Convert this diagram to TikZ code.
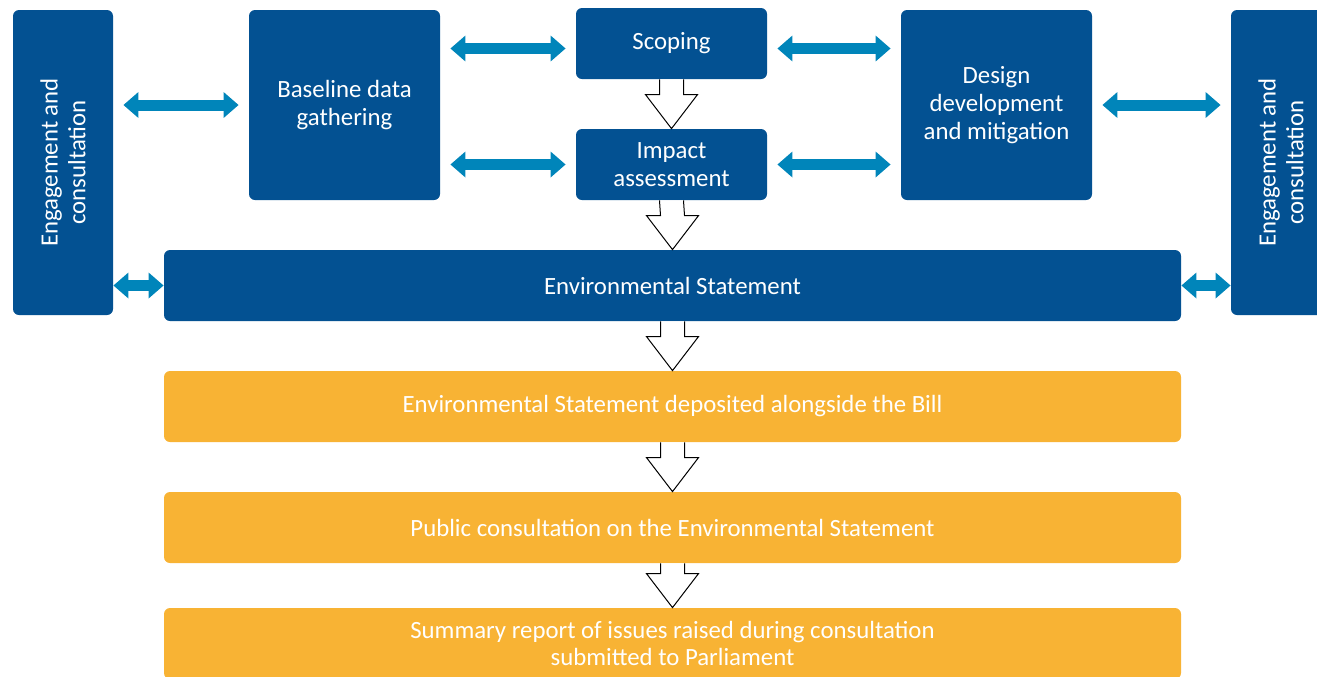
\documentclass[tikz,border=0pt]{standalone}
\usepackage{fontspec}
\setmainfont{Carlito}
\usetikzlibrary{arrows.meta,calc}

\definecolor{esblue}{RGB}{3,81,146}
\definecolor{linkblue}{RGB}{0,133,186}
\definecolor{esorange}{RGB}{248,179,52}

\tikzset{
  box/.style={rectangle, rounded corners=3pt, fill=esblue, text=white, align=center,
    inner sep=0pt, font=\fontsize{12.4}{13.8}\selectfont},
  side/.style={box, rotate=90, minimum width=152.5pt, minimum height=50pt},
  task/.style={box, minimum width=95.5pt},
  stage/.style={box, minimum width=508.5pt, minimum height=35.5pt},
  link/.style={linkblue, line width=5.5pt,
    {Triangle[length=7.5pt,width=12.5pt]}-{Triangle[length=7.5pt,width=12.5pt]},
    shorten <=5pt, shorten >=5pt},
  short link/.style={link, shorten <=0pt, shorten >=0pt},
  flow/.style={fill=white, draw=black, line width=0.5pt}
}

\begin{document}
\begin{tikzpicture}[x=0.5pt,y=-0.5pt]
    \clip (0,0) rectangle (1317,676);

    % engagement either side
    \node[side] (engl) at (63,162.5) {Engagement and\\consultation};
    \node[side] (engr) at (1281,162.5) {Engagement and\\consultation};

    % assessment tasks
    \node[task, minimum height=95pt] (base) at (344.5,105) {Baseline data\\gathering};
    \node[task, minimum height=35.5pt] (scope) at (671.5,43.5) {Scoping};
    \node[task, minimum height=35.5pt] (impact) at (671.5,164.5) {Impact\\assessment};
    \node[task, minimum height=95pt] (design) at (996.5,105) {Design\\development\\and mitigation};

    % statement and what follows
    \node[stage] (es) at (672.5,285.5) {Environmental Statement};
    \node[stage, fill=esorange] (dep) at (672.5,406.5) {Environmental Statement deposited alongside the Bill};
    \node[stage, fill=esorange] (pub) at (672.5,527.5) {Public consultation on the Environmental Statement};
    \node[stage, fill=esorange] (sum) at (672.5,643.5) {Summary report of issues raised during consultation\\submitted to Parliament};

    % two-way links
    \draw[link] (engl.south |- base) -- (base);
    \draw[link] ([yshift=-2.5pt]base.east |- scope) -- ([yshift=-2.5pt]scope.west);
    \draw[link] (base.east |- impact) -- (impact);
    \draw[link] ([yshift=-2.5pt]scope.east) -- ([yshift=-2.5pt]design.west |- scope);
    \draw[link] (impact) -- (design.west |- impact);
    \draw[link] (design) -- (engr.north |- design);
    \draw[short link] (engl.south |- es) -- (es.west);
    \draw[short link] (es.east) -- (engr.north |- es);

    % down arrows
    \foreach \a/\b in {scope/impact,impact/es,es/dep,dep/pub,pub/sum}
        \draw[flow] ($(\a.south)+(-6pt,0)$) -- ($(\b.north)+(-6pt,17pt)$) -- ++(-7pt,0)
            -- (\b.north) -- ++(13pt,17pt) -- ++(-7pt,0) -- ($(\a.south)+(6pt,0)$);

\end{tikzpicture}
\end{document}
